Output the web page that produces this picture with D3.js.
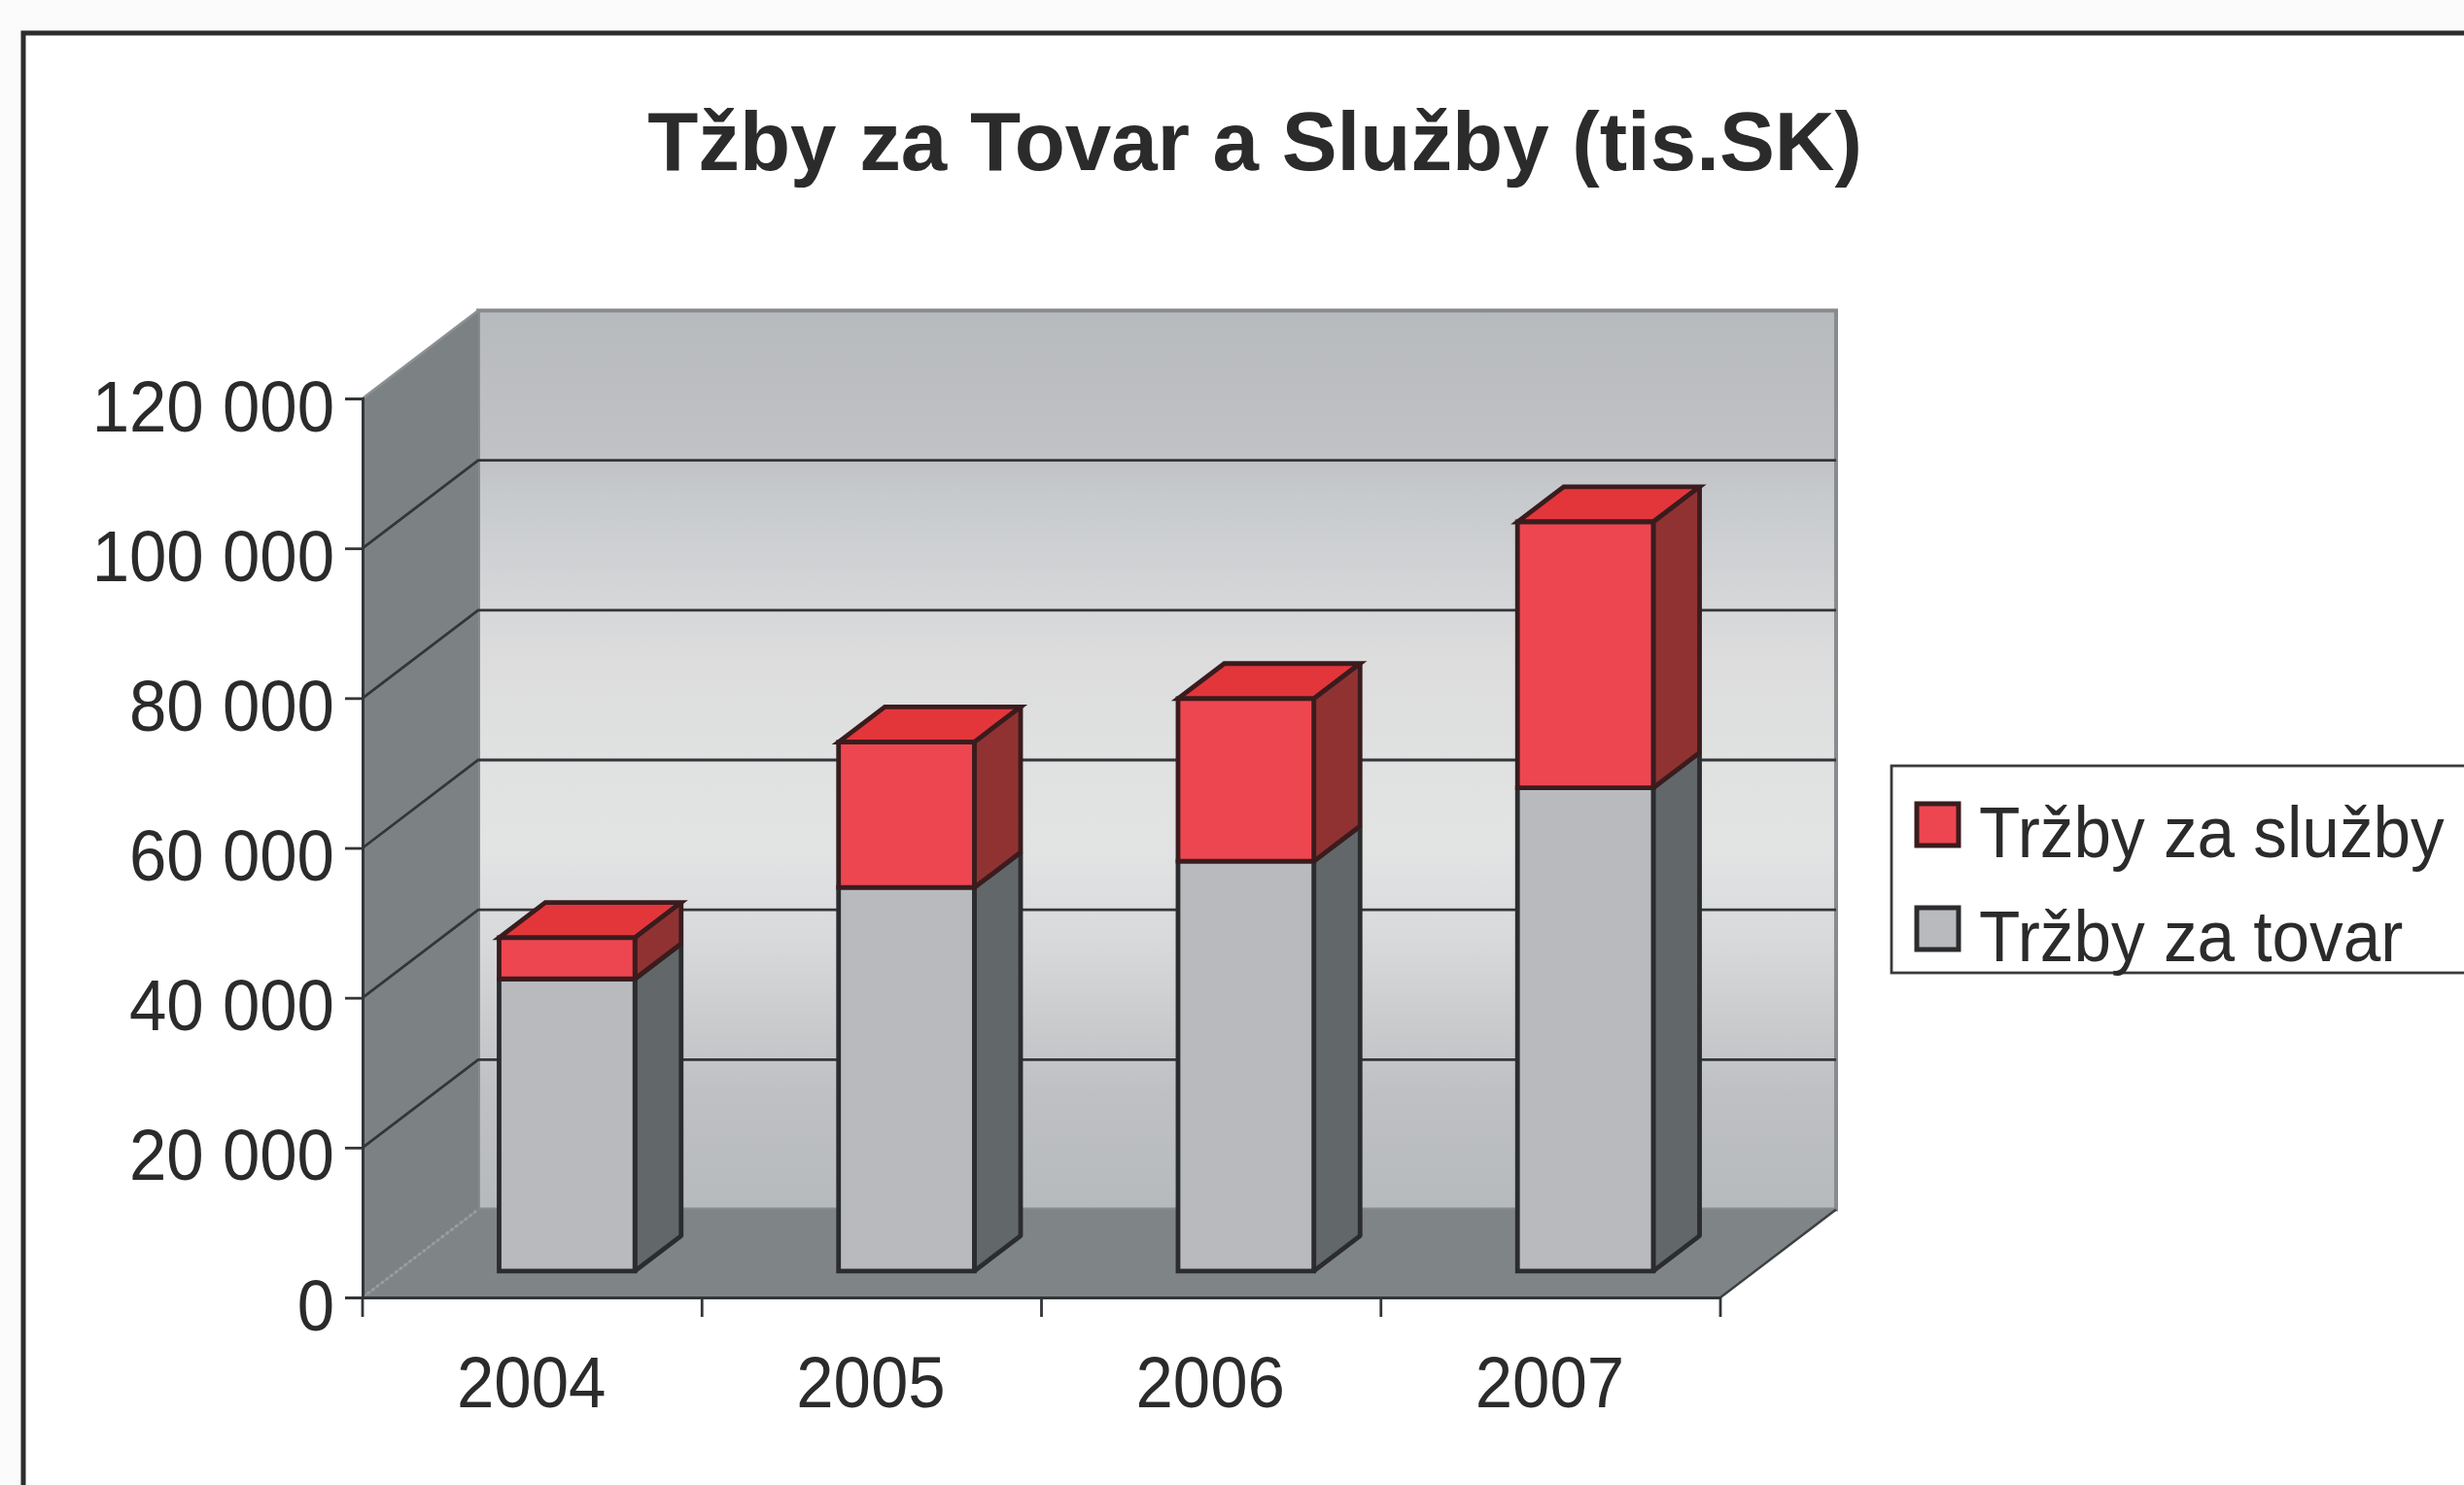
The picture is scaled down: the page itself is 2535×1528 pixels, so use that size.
<!DOCTYPE html>
<html>
<head>
<meta charset="utf-8">
<script src="https://cdn.jsdelivr.net/npm/d3@7"></script>
<style>
html, body { margin: 0; padding: 0; background: #fbfbfb; overflow: hidden; }
svg { display: block; filter: blur(0.7px); }
text { font-family: "Liberation Sans", Arial, sans-serif; fill: #2b2b2b; }
</style>
</head>
<body>
<div id="chart-area"></div>
<script>
// Data
const chartTitle = "Tžby za Tovar a Služby (tis.SK)";
const years = ["2004", "2005", "2006", "2007"];
const seriesNames = ["Tržby za tovar", "Tržby za služby"];
const goods = [39000, 51200, 54700, 64500];
const services = [5500, 19400, 21700, 35500];
const yTicks = [0, 20000, 40000, 60000, 80000, 100000, 120000];

const width = 2535;
const height = 1528;

// Front edge of the box, depth goes back and up
const frontLeft = 373, frontRight = 1770, frontBottom = 1335, frontTop = 410;
const depthX = d3.scaleLinear().domain([0, 1]).range([0, 119]);
const depthY = d3.scaleLinear().domain([0, 1]).range([0, -90.5]);
const barZ0 = 0.3, barZ1 = 0.7;

const svg = d3.select("#chart-area")
	.append("svg")
		.attr("width", width)
		.attr("height", height);

// Scales
const x = d3.scaleBand()
	.domain(years)
	.range([frontLeft, frontRight])
	.paddingInner(0.6)
	.paddingOuter(0.3);

const y = d3.scaleLinear()
	.domain([0, 120000])
	.range([frontBottom, frontTop]);

// Wall gradient
const stops = [
	[0, "#b7babd"], [0.17, "#c1c2c5"], [0.2, "#c6c9cc"], [0.33, "#d6d7d9"], [0.38, "#dcdcdd"],
	[0.5, "#e0e1e1"], [0.6, "#e2e3e3"], [0.7, "#d8d9db"], [0.8, "#c9cacc"], [0.87, "#bfc0c3"], [1, "#b6babd"]
];
const grad = svg.append("defs").append("linearGradient")
	.attr("id", "wall")
	.attr("x1", 0).attr("y1", 0).attr("x2", 0).attr("y2", 1);
grad.selectAll("stop")
	.data(stops)
	.enter().append("stop")
		.attr("offset", d => d[0])
		.attr("stop-color", d => d[1]);

// Frame, runs off the right and bottom of the picture
svg.append("rect")
	.attr("x", 24).attr("y", 34)
	.attr("width", width + 50).attr("height", height + 50)
	.attr("fill", "#fff")
	.attr("stroke", "#2d2d2d")
	.attr("stroke-width", 5);

svg.append("text")
	.attr("x", 1291)
	.attr("y", 175)
	.attr("text-anchor", "middle")
	.style("font-size", "85.3px")
	.style("font-weight", "bold")
	.text(chartTitle);

function pt(px, v, z) {
	return [px + depthX(z), y(v) + depthY(z)];
}
const poly = d3.line();

const g = svg.append("g");

// Back wall
const backTL = pt(frontLeft, 120000, 1), backBR = pt(frontRight, 0, 1);
g.append("rect")
	.attr("x", backTL[0]).attr("y", backTL[1])
	.attr("width", backBR[0] - backTL[0]).attr("height", backBR[1] - backTL[1])
	.attr("fill", "url(#wall)")
	.attr("stroke", "#878b8d")
	.attr("stroke-width", 4);

// Left wall
g.append("path")
	.attr("d", poly([pt(frontLeft, 0, 0), pt(frontLeft, 120000, 0), pt(frontLeft, 120000, 1), pt(frontLeft, 0, 1)]) + "Z")
	.attr("fill", "#7c8284");

// Floor
g.append("path")
	.attr("d", poly([pt(frontLeft, 0, 0), pt(frontRight, 0, 0), pt(frontRight, 0, 1), pt(frontLeft, 0, 1)]) + "Z")
	.attr("fill", "#7f8587");

g.append("path")
	.attr("d", poly([pt(frontLeft, 0, 0), pt(frontLeft, 0, 1)]))
	.attr("stroke", "#9a9ea0")
	.attr("stroke-width", 3)
	.attr("stroke-dasharray", "3 3")
	.attr("fill", "none");

g.append("path")
	.attr("d", poly([pt(frontRight, 0, 0), pt(frontRight, 0, 1)]))
	.attr("stroke", "#3c4042")
	.attr("stroke-width", 2.5)
	.attr("fill", "none");

// Gridlines, along the left wall and the back wall
g.selectAll(".grid")
	.data(yTicks.slice(1))
	.enter().append("path")
		.attr("class", "grid")
		.attr("d", d => {
			const pts = d === 120000
				? [pt(frontLeft, d, 0), pt(frontLeft, d, 1)]
				: [pt(frontLeft, d, 0), pt(frontLeft, d, 1), pt(frontRight, d, 1)];
			return poly(pts);
		})
		.attr("stroke", d => d === 120000 ? "#8b9092" : "#333638")
		.attr("stroke-width", 2.8)
		.attr("fill", "none");

// Axes
const yAxisGroup = svg.append("g")
	.attr("class", "y-axis")
	.attr("transform", `translate(${frontLeft}, 0)`);
yAxisGroup.call(d3.axisLeft(y)
	.tickValues(yTicks)
	.tickSize(18)
	.tickFormat(d => d3.format(",")(d).replace(/,/g, " ")));

const xAxisGroup = svg.append("g")
	.attr("class", "x-axis")
	.attr("transform", `translate(0, ${frontBottom})`);
xAxisGroup.call(d3.axisBottom(x).tickSize(0).tickPadding(0));

svg.selectAll(".y-axis path, .x-axis path")
	.attr("stroke", "#333638")
	.attr("stroke-width", 3);
svg.selectAll(".y-axis .tick line")
	.attr("stroke", "#333638")
	.attr("stroke-width", 2.8);

// Axis labels are a bit taller than the plain font
svg.selectAll(".y-axis .tick text")
	.attr("x", null).attr("dy", null).attr("y", null)
	.attr("transform", "translate(-29, 33) scale(1, 1.08)")
	.attr("text-anchor", "end")
	.style("font-size", "69px");
svg.selectAll(".x-axis .tick text")
	.attr("x", null).attr("dy", null).attr("y", null)
	.attr("transform", "translate(-1, 113) scale(1, 1.08)")
	.attr("text-anchor", "middle")
	.style("font-size", "69px");

// Category separators under the floor
const sep = [frontLeft].concat(years.map(d => x(d) + x.bandwidth() + x.step() * 0.3));
svg.selectAll(".sep")
	.data(sep)
	.enter().append("line")
		.attr("class", "sep")
		.attr("x1", d => d).attr("x2", d => d)
		.attr("y1", frontBottom).attr("y2", frontBottom + 20)
		.attr("stroke", "#333638")
		.attr("stroke-width", 2.8);

// Bars
const table = years.map((year, i) => ({ year: year, goods: goods[i], services: services[i] }));
const stacked = d3.stack().keys(["goods", "services"])(table);
const faces = [
	{ front: "#b9babe", side: "#626769", top: "#b0b1b5", line: "#2b2c2e" },
	{ front: "#ee4650", side: "#913232", top: "#e3363b", line: "#3a1c1e" }
];

const bars = svg.append("g");
stacked.forEach((layer, s) => {
	const c = faces[s];
	const seg = bars.selectAll(".seg" + s)
		.data(layer)
		.enter().append("g")
			.attr("class", "seg" + s)
			.attr("stroke", c.line)
			.attr("stroke-width", 4.8);

	const xl = d => x(d.data.year);
	const xr = d => x(d.data.year) + x.bandwidth();

	// only the upper segment shows its top face
	if (s === 1) {
		seg.append("path")
			.attr("fill", c.top)
			.attr("stroke-linejoin", "miter")
			.attr("d", d => poly([pt(xl(d), d[1], barZ0), pt(xr(d), d[1], barZ0), pt(xr(d), d[1], barZ1), pt(xl(d), d[1], barZ1)]) + "Z");
	}
	seg.append("path")
		.attr("fill", c.side)
		.attr("stroke-linejoin", "bevel")
		.attr("d", d => poly([pt(xr(d), d[0], barZ0), pt(xr(d), d[1], barZ0), pt(xr(d), d[1], barZ1), pt(xr(d), d[0], barZ1)]) + "Z");
	seg.append("path")
		.attr("fill", c.front)
		.attr("stroke-linejoin", "miter")
		.attr("d", d => poly([pt(xl(d), d[0], barZ0), pt(xr(d), d[0], barZ0), pt(xr(d), d[1], barZ0), pt(xl(d), d[1], barZ0)]) + "Z");
});

// Legend
svg.append("rect")
	.attr("x", 1946).attr("y", 788)
	.attr("width", 700).attr("height", 213)
	.attr("fill", "#fff")
	.attr("stroke", "#3a3a3a")
	.attr("stroke-width", 2.8);

const legendItems = [seriesNames[1], seriesNames[0]];
const legendFill = [faces[1], faces[0]];
const legend = svg.selectAll(".legend-item")
	.data(legendItems)
	.enter().append("g")
		.attr("class", "legend-item")
		.attr("transform", (d, i) => `translate(1970, ${825 + i * 107})`);

legend.append("rect")
	.attr("x", 2).attr("y", 2)
	.attr("width", 43).attr("height", 43)
	.attr("fill", (d, i) => legendFill[i].front)
	.attr("stroke", (d, i) => legendFill[i].line)
	.attr("stroke-width", 5);

legend.append("text")
	.attr("transform", "translate(66, 57) scale(1, 1.08)")
	.style("font-size", "69.3px")
	.text(d => d);
</script>
</body>
</html>
